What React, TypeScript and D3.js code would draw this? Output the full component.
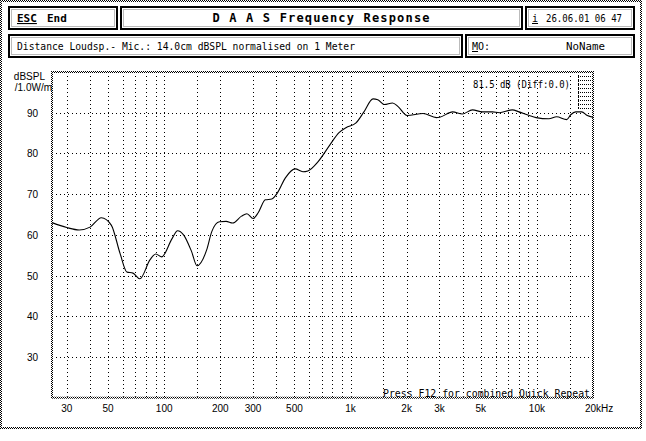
import React from 'react';
import * as d3 from 'd3';

// Frequency response curve (Hz / dB SPL)
const freqs = [25, 30, 35, 40, 46, 52, 58, 63, 68, 74, 84, 90, 97, 110, 118, 127, 140, 150, 169, 180, 198, 215, 233, 260, 278, 300, 320, 349, 378, 405, 447, 505, 555, 590, 670, 775, 867, 945, 1070, 1180, 1320, 1400, 1520, 1680, 1800, 2010, 2450, 2890, 3010, 3530, 3990, 4510, 5100, 5770, 6290, 7370, 8030, 9100, 9900, 11600, 12760, 14450, 15190, 16150, 17400, 18650, 20000];
const levels = [63, 61.8, 61.2, 61.9, 64.2, 62.4, 55.4, 50.9, 50.6, 49.2, 53.9, 55.3, 54.6, 59, 61, 60, 56, 52.4, 56.3, 60.8, 63.2, 63.3, 62.9, 64.6, 65.2, 64, 65.5, 68.6, 68.8, 70.3, 74, 76.2, 75.5, 75.7, 78, 82.1, 85.1, 86.3, 87.5, 90.2, 93.4, 93.2, 92, 92.4, 91.5, 89.3, 89.8, 88.8, 88.9, 90.2, 89.7, 90.7, 90.2, 90.2, 90, 90.7, 90.2, 89.3, 88.8, 88.5, 89, 88.3, 89.5, 90.2, 90.2, 89.3, 88.9];

const yTicks = [30, 40, 50, 60, 70, 80, 90];
const gridFreqs = [30, 40, 50, 60, 70, 80, 90, 100, 150, 200, 300, 400, 500, 600, 700, 800, 900, 1000, 1500, 2000, 3000, 4000, 5000, 6000, 7000, 8000, 9000, 10000, 15000];
const xTickValues = [30, 50, 100, 200, 300, 500, 1000, 2000, 3000, 5000, 10000, 20000];
const xTickLabels = ['30', '50', '100', '200', '300', '500', '1k', '2k', '3k', '5k', '10k', '20kHz'];

const title = 'D A A S  Frequency Response';
const infoText = 'Distance Loudsp.- Mic.: 14.0cm dBSPL normalised on 1 Meter';
const dateText = '26.06.01 06 47';
const refText = '81.5 dB (Diff:0.0)';
const footText = 'Press F12 for combined Quick Repeat';

const MONO = '"DejaVu Sans Mono", "Liberation Mono", monospace';
const SANS = '"Liberation Sans", Arial, sans-serif';

export default function App() {
  const W = 646, H = 441;
  const L = 52, R = 593, T = 72, B = 397.7;
  const x = d3.scaleLog().domain([25, 20000]).range([L, R]);
  const y = d3.scaleLinear().domain([20, 100]).range([B, T]);
  const pts: [number, number][] = freqs.map((f, i) => [x(f), y(levels[i])]);
  const line = d3.line().curve(d3.curveMonotoneX)(pts) || '';

  const box = (bx: number, by: number, bw: number, bh: number, key: string) => (
    <g key={key}>
      <rect x={bx} y={by} width={bw} height={bh} fill="white" stroke="#000" strokeWidth={2} />
      <rect x={bx + 2.5} y={by + 2.5} width={bw - 5} height={bh - 5} fill="none" stroke="#bbb" strokeWidth={1} />
    </g>
  );

  const miniYs = [76, 80, 84, 88, 92, 96, 100, 104, 108];

  return (
    <svg width={W} height={H} style={{ position: 'absolute', left: 0, top: 0, background: '#fff' }}>
      <defs>
        <pattern id="dither" width={2} height={2} patternUnits="userSpaceOnUse">
          <rect x={0} y={0} width={2} height={2} fill="#fff" />
          <rect x={0} y={0} width={1} height={1} fill="#000" />
          <rect x={1} y={1} width={1} height={1} fill="#000" />
        </pattern>
      </defs>
      <rect x={0} y={0} width={W} height={H} fill="#fff" />
      {/* outer frame */}
      <rect x={1} y={1} width={640} height={427} fill="none" stroke="url(#dither)" strokeWidth={2} />

      {/* header */}
      {box(9, 7, 108, 22, 'esc')}
      {box(121, 7, 401, 22, 'title')}
      {box(526, 7, 108, 22, 'date')}
      {box(9, 35, 453, 22, 'info')}
      {box(466, 35, 168, 22, 'mo')}

      <text x={17} y={22} fontFamily={MONO} fontSize={11} fontWeight="bold" textDecoration="underline">ESC</text>
      <text x={47} y={22} fontFamily={MONO} fontSize={11} fontWeight="bold">End</text>
      <text x={321} y={22} textAnchor="middle" fontFamily={MONO} fontSize={12} fontWeight="bold" textLength={217} lengthAdjust="spacing">{title}</text>
      <text x={532} y={22} fontFamily={MONO} fontSize={10} textDecoration="underline">i</text>
      <text x={546} y={22} fontFamily={MONO} fontSize={10} textLength={76} lengthAdjust="spacingAndGlyphs">{dateText}</text>
      <text x={17} y={50} fontFamily={MONO} fontSize={10} textLength={338} lengthAdjust="spacingAndGlyphs">{infoText}</text>
      <text x={472} y={50} fontFamily={MONO} fontSize={10}><tspan textDecoration="underline">M</tspan>O:</text>
      <text x={566} y={50} fontFamily={MONO} fontSize={10} textLength={39} lengthAdjust="spacingAndGlyphs">NoName</text>

      {/* grid */}
      {yTicks.map(v => (
        <line key={'h' + v} x1={L} x2={R} y1={Math.round(y(v)) + 0.5} y2={Math.round(y(v)) + 0.5} stroke="#000" strokeWidth={1} strokeDasharray="1,3" />
      ))}
      {gridFreqs.map(f => (
        <line key={'v' + f} x1={Math.round(x(f)) + 0.5} x2={Math.round(x(f)) + 0.5} y1={T} y2={B} stroke="#000" strokeWidth={1} strokeDasharray="1,3" />
      ))}

      {/* mini indicator top right */}
      {miniYs.map(v => (
        <line key={'m' + v} x1={578} x2={592} y1={v + 0.5} y2={v + 0.5} stroke="#000" strokeWidth={1} strokeDasharray="1,1" />
      ))}
      <line x1={578.5} x2={578.5} y1={75} y2={109} stroke="#000" strokeWidth={1} strokeDasharray="1,1" />

      {/* plot frame */}
      <rect x={L} y={T} width={R - L} height={B - T} fill="none" stroke="url(#dither)" strokeWidth={2} />

      {/* curve */}
      <path d={line} fill="none" stroke="#000" strokeWidth={1.1} />

      {/* y labels */}
      <text x={45} y={80} textAnchor="end" fontFamily={SANS} fontSize={10}>dBSPL</text>
      <text x={52} y={91} textAnchor="end" fontFamily={SANS} fontSize={10}>/1.0W/m</text>
      {yTicks.map(v => (
        <text key={'yl' + v} x={38} y={y(v) + 4} textAnchor="end" fontFamily={SANS} fontSize={10}>{v}</text>
      ))}

      {/* x labels */}
      {xTickValues.map((f, i) => (
        <text key={'xl' + f} x={i === xTickValues.length - 1 ? x(f) - 8 : x(f)} y={412} textAnchor={i === xTickValues.length - 1 ? 'start' : 'middle'} fontFamily={SANS} fontSize={10}>{xTickLabels[i]}</text>
      ))}

      <text x={473} y={88} fontFamily={MONO} fontSize={10} textLength={97} lengthAdjust="spacingAndGlyphs">{refText}</text>
      <text x={383} y={397} fontFamily={MONO} fontSize={10} textLength={207} lengthAdjust="spacingAndGlyphs">{footText}</text>
    </svg>
  );
}
